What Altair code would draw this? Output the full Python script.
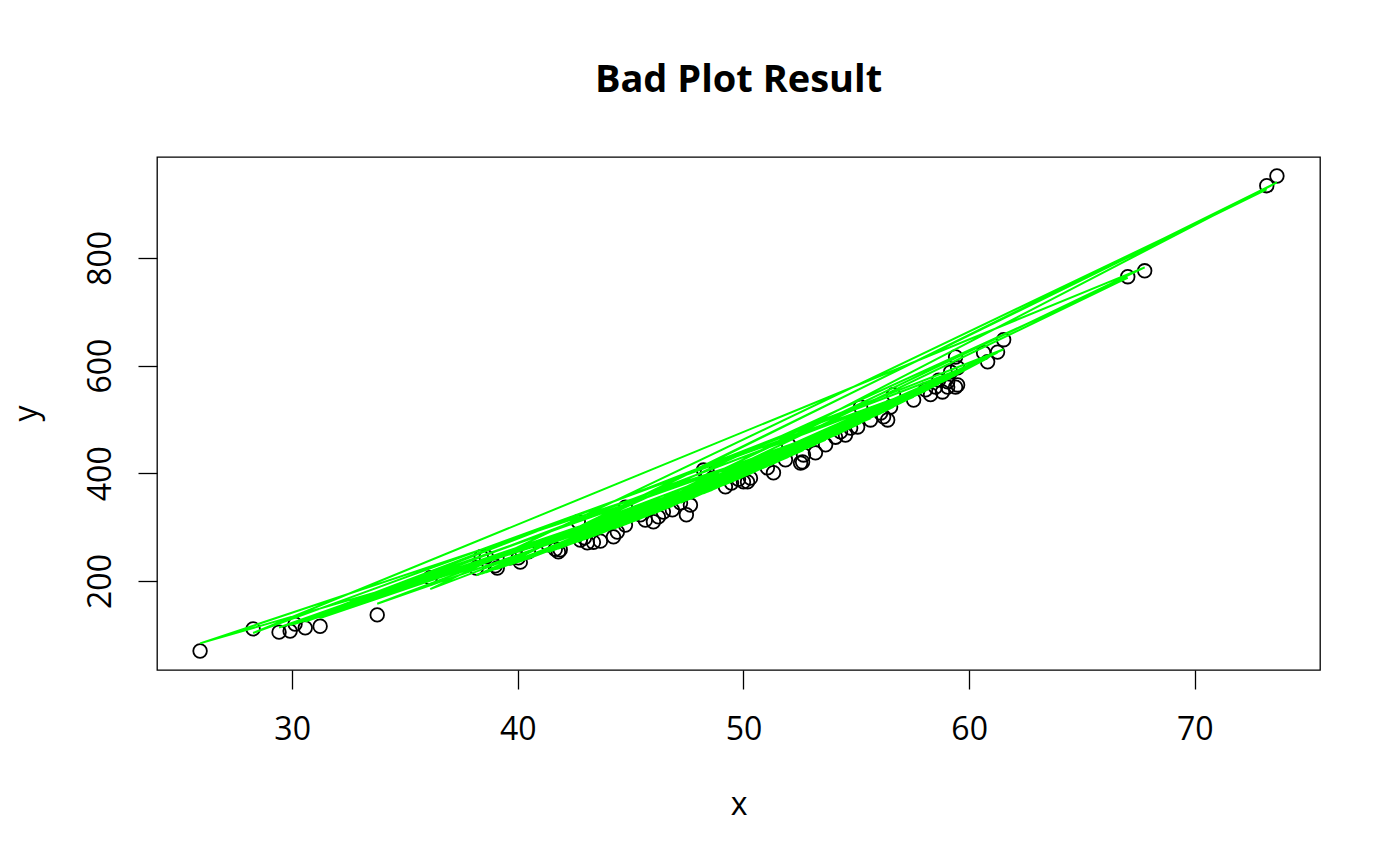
import altair as alt
import numpy as np
import pandas as pd

x_vals = [50.00, 38.60, 73.19, 36.12, 54.30, 44.77, 59.05, 28.27, 67.78, 41.66,
          56.52, 30.13, 49.20, 59.49, 39.67, 46.85, 25.92, 55.19, 42.95, 67.03,
          38.16, 51.86, 46.01, 59.05, 31.24, 51.06, 42.68, 57.54, 39.09, 48.63,
          29.42, 55.63, 43.66, 73.64, 39.00, 52.53, 47.47, 61.26, 41.80, 56.08,
          33.77, 50.18, 59.49, 43.08, 53.19, 38.38, 46.23, 59.18, 40.11, 52.62,
          29.91, 60.64, 44.41, 45.43, 58.51, 40.02, 49.47, 55.06, 43.35, 61.53,
          30.58, 52.00, 48.23, 58.07, 41.88, 46.45, 56.39, 40.47, 51.33, 59.40,
          42.77, 53.64, 44.77, 59.40, 47.21, 56.21, 41.35, 50.31, 58.65, 44.24,
          52.66, 48.40, 54.52, 45.65, 56.65, 47.65, 54.75, 49.78, 58.29, 54.08,
          60.82, 58.82]
y_vals = [384, 245, 934, 206, 477, 337, 560, 111, 776, 259,
          523, 120, 375, 596, 243, 332, 70, 523, 280, 765,
          224, 425, 310, 570, 116, 410, 310, 536, 224, 391,
          105, 499, 274, 952, 228, 419, 323, 625, 254, 512,
          137, 384, 564, 271, 438, 245, 319, 588, 235, 421,
          107, 624, 291, 323, 560, 243, 382, 486, 272, 648,
          113, 453, 406, 555, 258, 328, 499, 254, 401, 560,
          276, 453, 304, 616, 345, 505, 267, 391, 573, 282,
          434, 402, 471, 313, 546, 341, 484, 389, 546, 467,
          607, 551]
x_ticks = [30, 40, 50, 60, 70]
y_ticks = [200, 400, 600, 800]

x = np.array(x_vals, dtype=float)
y = np.array(y_vals, dtype=float)
# quadratic model fit, drawn in data order (the "bad" plot)
coef = np.polyfit(x, y, 2)
fitted = np.polyval(coef, x)
df = pd.DataFrame({"i": np.arange(len(x)), "x": x, "y": y, "fit": fitted})

xr = x.max() - x.min()
yr = y.max() - y.min()
xdom = [x.min() - 0.04 * xr, x.max() + 0.04 * xr]
ydom = [y.min() - 0.04 * yr, y.max() + 0.04 * yr]

FONT = "Open Sans"
xscale = alt.Scale(domain=xdom, nice=False, zero=False)
yscale = alt.Scale(domain=ydom, nice=False, zero=False)

xaxis = alt.Axis(values=x_ticks, domain=False, grid=False, tickColor="black",
                 tickSize=19, tickWidth=1.3, labelFont=FONT, labelFontSize=32,
                 labelColor="black", labelPadding=50, labelBaseline="alphabetic",
                 labelFlush=False, labelOverlap=False, title="x", titleFont=FONT,
                 titleFontSize=32, titleFontWeight="normal", titleColor="black",
                 titleY=144, titleBaseline="alphabetic")
yaxis = alt.Axis(values=y_ticks, domain=False, grid=False, tickColor="black",
                 tickSize=19, tickWidth=1.3, labelFont=FONT, labelFontSize=32,
                 labelColor="black", labelAngle=270, labelAlign="center",
                 labelBaseline="alphabetic", labelPadding=28, labelFlush=False,
                 labelOverlap=False, title="y", titleFont=FONT, titleFontSize=32,
                 titleFontWeight="normal", titleColor="black", titleAngle=270,
                 titleX=-121, titleY=256, titleAlign="center",
                 titleBaseline="alphabetic")

base = alt.Chart(df)
points = base.mark_point(shape="circle", filled=False, color="black", size=185,
                         strokeWidth=1.8, opacity=1).encode(
    x=alt.X("x:Q", scale=xscale, axis=xaxis),
    y=alt.Y("y:Q", scale=yscale, axis=yaxis),
)
line = base.mark_line(color="#00ff00", strokeWidth=2).encode(
    x=alt.X("x:Q", scale=xscale, title="x"),
    y=alt.Y("fit:Q", scale=yscale, title="y"),
    order=alt.Order("i:Q"),
)

chart = alt.layer(points, line).properties(
    width=1163, height=513,
    title=alt.TitleParams("Bad Plot Result", font=FONT, fontSize=38,
                          fontWeight="bold", color="black", anchor="middle",
                          baseline="alphabetic", offset=27),
    autosize=alt.AutoSizeParams(type="none"),
    padding={"left": 149, "top": 149, "right": 72, "bottom": 188},
    background="white",
).configure_view(stroke="black", strokeWidth=1.3)

chart.save("out.html", embed_options={"renderer": "svg", "actions": False})
